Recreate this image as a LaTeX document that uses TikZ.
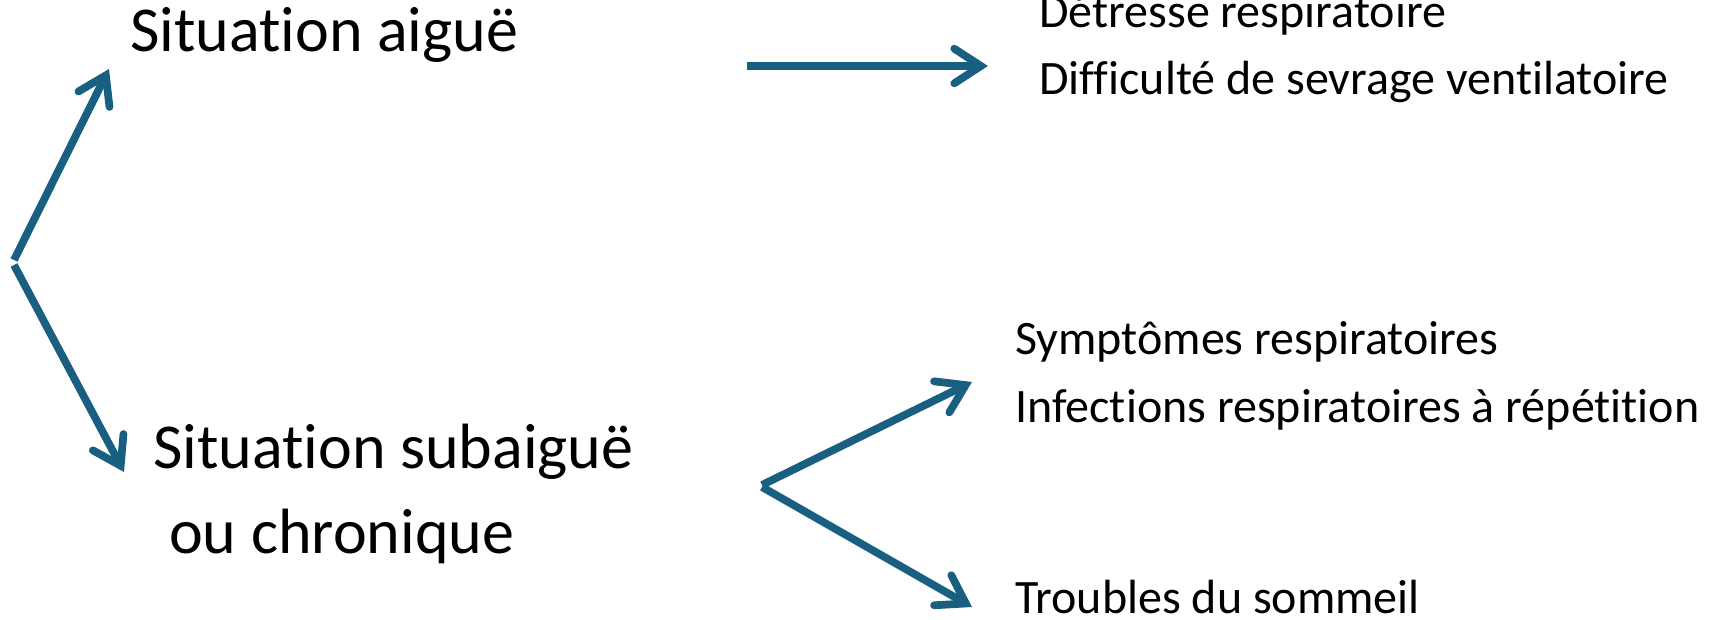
\documentclass[tikz,border=0pt]{standalone}
\usepackage{fontspec}
\setmainfont{Carlito}[Ligatures=NoCommon, RawFeature={-liga;-clig;-calt;-dlig}]
\usetikzlibrary{arrows.meta}
\definecolor{arrowblue}{RGB}{24,95,130}
\tikzset{
  big/.style={anchor=base west, inner sep=0pt, font=\fontsize{48}{57}\selectfont},
  small/.style={anchor=base west, inner sep=0pt, font=\fontsize{36}{43}\selectfont},
  conn/.style={draw=arrowblue, line width=5.8pt, line cap=butt,
    -{Straight Barb[length=20pt, width=26pt, line cap=round]}}
}
\begin{document}
\begin{tikzpicture}[x=0.75pt, y=-0.75pt]
\useasboundingbox (0,0) rectangle (1729,620);
% texts
\node[big]   (aigue)  at (130,52)  {Situation aiguë};
\node[big]   (subaig) at (153,468) {Situation subaiguë};
\node[big]   (chron)  at (169,553) {ou chronique};
\node[small] (detr)   at (1039,28) {Détresse respiratoire};
\node[small] (diff)   at (1039,95) {Difficulté de sevrage ventilatoire};
\node[small] (sympt)  at (1015,355) {Symptômes respiratoires};
\node[small] (infect) at (1015,422) {Infections respiratoires à répétition};
\node[small] (troub)  at (1015,613) {Troubles du sommeil};
% connector points
\coordinate (va) at (14,260);
\coordinate (vb) at (14,265);
\coordinate (ta) at (109,69);
\coordinate (tb) at (124,472);
\coordinate (hs) at (747,66);
\coordinate (ht) at (988,66);
\coordinate (vc) at (762,485);
\coordinate (vd) at (762,487);
\coordinate (tc) at (972,382);
\coordinate (td) at (972,607);
% connectors
\draw[conn] (va) -- (ta);
\draw[conn] (vb) -- (tb);
\draw[conn] (hs) -- (ht);
\draw[conn] (vc) -- (tc);
\draw[conn] (vd) -- (td);
\end{tikzpicture}
\end{document}
